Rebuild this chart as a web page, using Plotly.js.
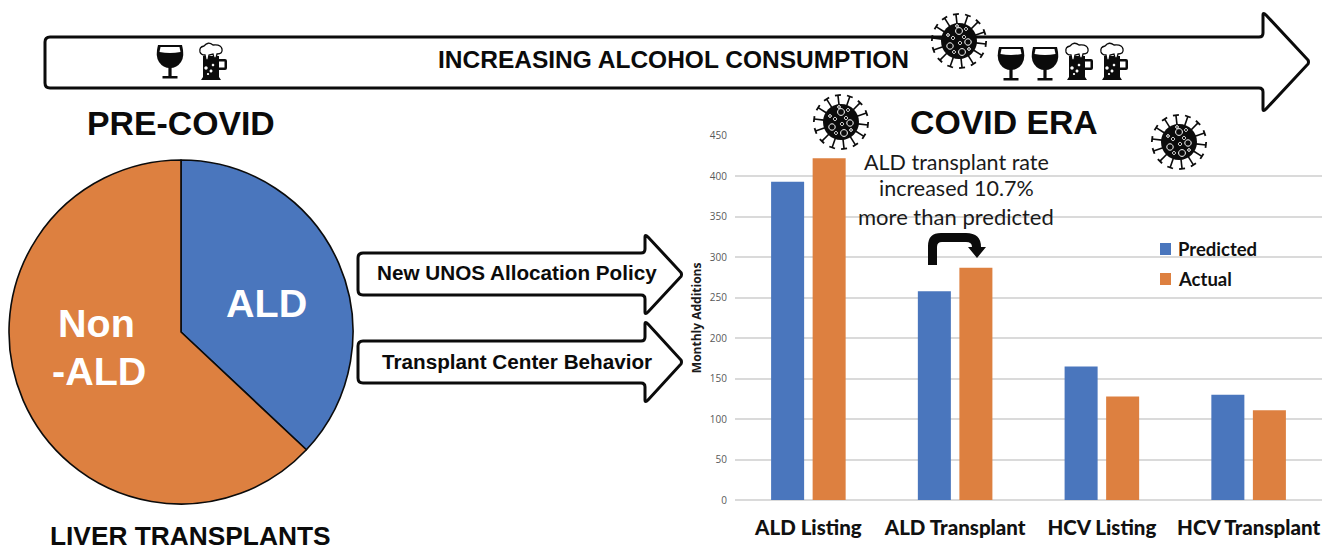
<!DOCTYPE html>
<html><head><meta charset="utf-8">
<script src="https://cdn.plot.ly/plotly-3.0.1.min.js"></script>
<style>html,body{margin:0;padding:0;background:#fff}#c{width:1323px;height:546px}</style>
</head><body><div id="c"></div>
<script>
// ---- data ----
const pieLabels = ['ALD', 'Non-ALD'];
const pieValues = [37, 63];
const categories = ['ALD Listing', 'ALD Transplant', 'HCV Listing', 'HCV Transplant'];
const predicted = [393, 258, 165, 130];
const actual = [422, 287, 128, 111];
const yTicks = [0, 50, 100, 150, 200, 250, 300, 350, 400, 450];
const BLUE = '#4a76bd', ORANGE = '#dd8040', INK = '#0b0b0b';
const W = 1323, H = 546;

// ---- decoration helpers (page-pixel axes x2/y2) ----
const shapes = [];
function add(path, fill, lineColor, lineWidth) {
  shapes.push({type:'path', xref:'x2', yref:'y2', layer:'above', path,
    fillcolor: fill || 'rgba(0,0,0,0)',
    line:{color: lineColor || 'rgba(0,0,0,0)', width: lineWidth || 0}});
}
function arrow(l, t, b, neck, headT, headB, tip) {
  const m = (headT + headB) / 2, r = 5;
  add(`M${l+r},${t} L${neck-4},${t} Q${neck},${t} ${neck},${t-4} L${neck},${headT+2} Q${neck},${headT-1} ${neck+3},${headT+2} ` +
      `L${tip},${m-2} Q${tip+1},${m} ${tip},${m+2} L${neck+3},${headB-2} Q${neck},${headB+1} ${neck},${headB-2} ` +
      `L${neck},${b+4} Q${neck},${b} ${neck-4},${b} L${l+r},${b} Q${l},${b} ${l},${b-r} L${l},${t+r} Q${l},${t} ${l+r},${t} Z`,
      '#ffffff', INK, 3);
}
function circ(cx, cy, r) {
  const k = 0.5523 * r;
  return `M${cx-r},${cy} C${cx-r},${cy-k} ${cx-k},${cy-r} ${cx},${cy-r} C${cx+k},${cy-r} ${cx+r},${cy-k} ${cx+r},${cy} ` +
         `C${cx+r},${cy+k} ${cx+k},${cy+r} ${cx},${cy+r} C${cx-k},${cy+r} ${cx-r},${cy+k} ${cx-r},${cy} Z`;
}
const virusHoles = [[0,-10,3.4],[-6,-3,1.6],[5,-4,1.6],[-9,5,3.2],[1,2,1.6],[9,1,3.2],[3,11,3.4],[-5,11,1.5],[-2,-15,1.4],[7,-12,1.5],[10,8,1.4],[-11,-6,1.4]];
function virus(cx, cy) {
  const R = 18, S = 27, n = 14;
  for (let i = 0; i < n; i++) {
    const a = i * 2 * Math.PI / n + 0.11, c = Math.cos(a), s = Math.sin(a);
    const ox = cx + S * c, oy = cy + S * s;
    add(`M${cx + (R-1)*c},${cy + (R-1)*s} L${ox},${oy}`, null, INK, 1.6);
    add(`M${ox - 3*s},${oy + 3*c} L${ox + 3*s},${oy - 3*c}`, null, INK, 1.8);
  }
  add(circ(cx, cy, R), INK);
  virusHoles.forEach(h => add(circ(cx + h[0], cy + h[1], h[2]), null, '#ffffff', 1));
}
function wine(cx, top) {
  add(`M${cx-12},${top+1} L${cx+12},${top+1} Q${cx+15},${top+12} ${cx+11},${top+18} Q${cx+7},${top+24} ${cx},${top+24} Q${cx-7},${top+24} ${cx-11},${top+18} Q${cx-15},${top+12} ${cx-12},${top+1} Z`, INK);
  add(`M${cx-9.5},${top+3} L${cx+9.5},${top+3} L${cx+10.5},${top+8} Q${cx},${top+10} ${cx-10.5},${top+8} Z`, '#ffffff');
  add(`M${cx-1.6},${top+23} L${cx+1.6},${top+23} L${cx+1.6},${top+32} L${cx+7.5},${top+32} L${cx+7.5},${top+34.5} L${cx-7.5},${top+34.5} L${cx-7.5},${top+32} L${cx-1.6},${top+32} Z`, INK);
}
function mug(l, top) {
  add(`M${l+1},${top+13} L${l+17},${top+13} L${l+17},${top+16} L${l+23},${top+16} Q${l+25},${top+16} ${l+25},${top+18} L${l+25},${top+25} Q${l+25},${top+27} ${l+23},${top+27} L${l+17},${top+27} L${l+17},${top+34} L${l+19},${top+37} L${l-1},${top+37} L${l+1},${top+34} Z`, INK);
  add(`M${l+17},${top+18.5} L${l+22.5},${top+18.5} L${l+22.5},${top+24.5} L${l+17},${top+24.5} Z`, '#ffffff');
  add(`M${l-2},${top+9} Q${l-3},${top+4} ${l+2},${top+3} Q${l+6},${top-2} ${l+11},${top+2} Q${l+19},${top+1} ${l+20},${top+6} Q${l+21},${top+11} ${l+15},${top+11} L${l+14},${top+15} L${l+12},${top+15} L${l+11},${top+11} L${l+7},${top+12} L${l+6},${top+17} L${l+4},${top+17} L${l+3},${top+12} Q${l-1},${top+12} ${l-2},${top+9} Z`, '#ffffff', INK, 1.3);
  [[4,25,1.7],[9,28,1.5],[11,22,1.3],[6,31,1.1]].forEach(h => add(circ(l+h[0], top+h[1], h[2]), '#ffffff'));
}

// ---- arrows and icons ----
arrow(45, 37, 88, 1263, 13, 111, 1308);
arrow(358, 253, 295, 645, 235, 314, 681);
arrow(358, 341, 383, 645, 322, 402, 681);
wine(170, 44); mug(202, 43);
virus(959, 41);
wine(1011, 46); wine(1045, 46); mug(1068, 43); mug(1103, 43);
virus(841, 122); virus(1179, 142);

// curved arrow over the ALD Transplant bars
add('M928,265 L928,246 Q928,233 941,233 L966,233 Q981,233 981,247 L986,247 L977,258 L968,247 L972,247 Q972,242 966,242 L942,242 Q937,242 937,247 L937,265 Z', INK);
// legend swatches
add('M1160,243 L1171,243 L1171,255 L1160,255 Z', BLUE);
add('M1160,273 L1171,273 L1171,285 L1160,285 Z', ORANGE);

// ---- text ----
const ARIAL = 'Liberation Sans, Arial, sans-serif', LATO = 'Lato, sans-serif';
function label(text, x, y, size, color, family, bold, extra) {
  return Object.assign({xref:'x2', yref:'y2', x, y, showarrow:false, xanchor:'center', yanchor:'middle',
    text: bold ? `<b>${text}</b>` : text, font:{family, size, color}}, extra || {});
}
const annotations = [
  label('INCREASING ALCOHOL CONSUMPTION', 673, 59, 24.5, INK, ARIAL, true),
  label('PRE-COVID', 181, 123, 33.8, INK, ARIAL, true),
  label('COVID ERA', 1004, 122, 33.8, INK, ARIAL, true),
  label('LIVER TRANSPLANTS', 190, 536, 26.3, INK, ARIAL, true),
  label('ALD', 266, 303, 39.5, '#ffffff', ARIAL, true),
  label('Non', 96, 323, 39.5, '#ffffff', ARIAL, true),
  label('-ALD', 99, 371, 39.5, '#ffffff', ARIAL, true),
  label('New UNOS Allocation Policy', 517, 272, 20.7, INK, ARIAL, true),
  label('Transplant Center Behavior', 517, 361, 20.7, INK, ARIAL, true),
  label('ALD transplant rate', 956, 162, 21.5, '#1a1a1a', LATO, false),
  label('increased 10.7%', 956, 188, 21.5, '#1a1a1a', LATO, false),
  label('more than predicted', 956, 216, 22, '#1a1a1a', LATO, false),
  label('Predicted', 1176, 249, 18.5, '#111111', LATO, true, {xanchor:'left', font:{family:LATO, size:18.5, color:'#111111', weight:900}}),
  label('Actual', 1176, 279, 18.5, '#111111', LATO, true, {xanchor:'left', font:{family:LATO, size:18.5, color:'#111111', weight:900}})
];

// ---- traces ----
const traces = [
  {type:'pie', labels:pieLabels, values:pieValues, sort:false, direction:'clockwise', rotation:0,
   marker:{colors:[BLUE, ORANGE], line:{color:INK, width:1.6}}, textinfo:'none', hoverinfo:'label+percent',
   showlegend:false, domain:{x:[9/W, 353/W], y:[(H-504)/H, (H-160)/H]}},
  {type:'bar', name:'Predicted', x:categories, y:predicted, marker:{color:BLUE}, xaxis:'x', yaxis:'y', showlegend:false},
  {type:'bar', name:'Actual', x:categories, y:actual, marker:{color:ORANGE}, xaxis:'x', yaxis:'y', showlegend:false},
  // an empty trace keeps the page-pixel axes alive
  {type:'scatter', x:[], y:[], xaxis:'x2', yaxis:'y2', showlegend:false, hoverinfo:'skip'}
];

const layout = {
  width:W, height:H, margin:{l:0, r:0, t:0, b:0}, paper_bgcolor:'#fff', plot_bgcolor:'rgba(0,0,0,0)',
  barmode:'group', bargap:0.434, bargroupgap:0.205,
  font:{family:LATO},
  xaxis:{domain:[735/W, 1322/W], anchor:'y', type:'category', ticks:'', ticklabelstandoff:13, showgrid:false,
         zeroline:false, showline:false, automargin:false,
         tickfont:{family:LATO, size:20.5, color:'#111111', weight:900}},
  yaxis:{domain:[(H-500)/H, (H-135.7)/H], anchor:'x', range:[0,450], tickmode:'array', tickvals:yTicks,
         ticks:'', gridcolor:'#dadada', gridwidth:1.5, zeroline:true, zerolinecolor:'#dadada', zerolinewidth:1.5,
         showline:false, automargin:false, ticklabelstandoff:7,
         tickfont:{family:'Open Sans, sans-serif', size:10, color:'#595959'},
         title:{text:'<b>Monthly Additions</b>', standoff:5, font:{family:'Open Sans, sans-serif', size:12, color:'#1a1a1a'}}},
  xaxis2:{domain:[0,1], range:[0,W], anchor:'y2', visible:false, fixedrange:true},
  yaxis2:{domain:[0,1], range:[H,0], anchor:'x2', visible:false, fixedrange:true},
  shapes, annotations
};
Plotly.newPlot('c', traces, layout, {displayModeBar:false, responsive:false});
</script></body></html>
